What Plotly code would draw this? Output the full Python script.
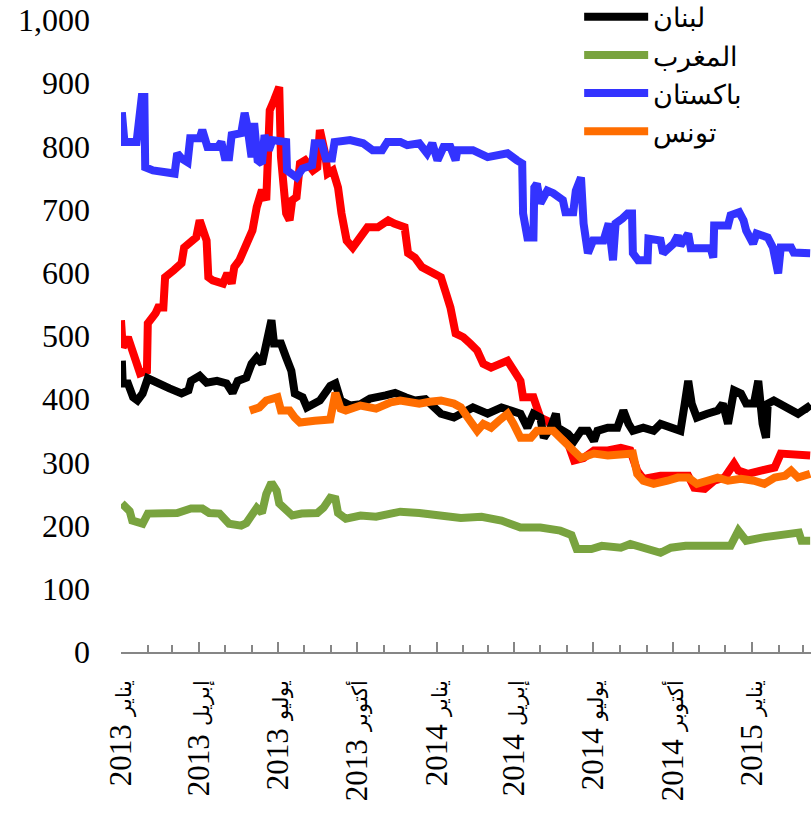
import plotly.graph_objects as go

# ---------------- data ----------------
red_dates = ["2013-01-01","2013-01-03","2013-01-09","2013-01-15","2013-01-23","2013-01-31","2013-02-01","2013-02-10","2013-02-13","2013-02-19","2013-02-21","2013-03-03","2013-03-12","2013-03-15","2013-03-23","2013-03-29","2013-04-02","2013-04-08","2013-04-10","2013-04-12","2013-04-17","2013-04-29","2013-05-04","2013-05-09","2013-05-12","2013-05-18","2013-05-26","2013-06-02","2013-06-07","2013-06-13","2013-06-18","2013-06-22","2013-06-27","2013-07-03","2013-07-05","2013-07-11","2013-07-15","2013-07-18","2013-07-23","2013-07-27","2013-08-02","2013-08-11","2013-08-16","2013-08-19","2013-08-25","2013-08-28","2013-09-03","2013-09-09","2013-09-13","2013-09-19","2013-09-26","2013-10-05","2013-10-13","2013-10-25","2013-11-06","2013-11-13","2013-11-25","2013-11-29","2013-12-07","2013-12-15","2013-12-30","2014-01-06","2014-01-12","2014-01-17","2014-01-23","2014-02-01","2014-02-09","2014-02-17","2014-02-24","2014-03-05","2014-03-24","2014-03-31","2014-04-08","2014-04-11","2014-04-23","2014-04-27","2014-05-01","2014-05-09","2014-05-16","2014-06-02","2014-06-09","2014-06-20","2014-07-02","2014-07-18","2014-08-02","2014-08-13","2014-08-21","2014-08-28","2014-09-17","2014-10-19","2014-10-26","2014-11-07","2014-11-18","2014-11-30","2014-12-11","2014-12-16","2014-12-27","2015-01-23","2015-01-27","2015-02-03","2015-02-19","2015-03-09"]
red_values = [525,482,498,472,441,445,520,536,545,545,593,604,615,640,651,656,683,662,651,593,588,583,599,583,609,620,647,667,704,731,715,857,873,894,783,694,683,715,720,773,778,762,767,826,789,757,762,735,694,651,640,656,672,672,683,678,672,631,624,609,599,593,567,545,504,498,488,477,456,450,461,445,429,403,403,387,371,366,355,330,303,307,319,319,323,319,287,274,279,279,260,258,271,276,298,287,282,290,292,314,314,311]

lebanon_dates = ["2013-01-02","2013-01-03","2013-01-09","2013-01-15","2013-01-20","2013-01-26","2013-02-01","2013-02-12","2013-02-26","2013-03-12","2013-03-20","2013-03-23","2013-04-02","2013-04-10","2013-04-22","2013-05-03","2013-05-10","2013-05-16","2013-05-26","2013-06-01","2013-06-07","2013-06-13","2013-06-18","2013-06-24","2013-06-27","2013-07-05","2013-07-11","2013-07-17","2013-07-21","2013-07-30","2013-08-04","2013-08-19","2013-08-31","2013-09-06","2013-09-12","2013-09-23","2013-10-05","2013-10-16","2013-11-03","2013-11-14","2013-11-26","2013-12-07","2013-12-19","2013-12-27","2014-01-06","2014-01-21","2014-01-29","2014-02-12","2014-03-01","2014-03-17","2014-03-28","2014-04-08","2014-04-16","2014-04-23","2014-05-01","2014-05-05","2014-05-13","2014-05-19","2014-05-21","2014-06-02","2014-06-09","2014-06-17","2014-06-25","2014-07-02","2014-07-06","2014-07-18","2014-07-29","2014-08-05","2014-08-11","2014-08-16","2014-08-28","2014-09-09","2014-09-17","2014-09-28","2014-10-10","2014-10-15","2014-10-19","2014-10-23","2014-10-29","2014-11-10","2014-11-22","2014-11-28","2014-12-04","2014-12-11","2014-12-19","2014-12-25","2015-01-03","2015-01-08","2015-01-13","2015-01-17","2015-01-19","2015-01-26","2015-02-12","2015-02-23","2015-03-06","2015-03-09"]
lebanon_values = [461,425,425,403,398,409,433,425,417,409,414,429,437,426,429,425,410,429,434,456,466,456,493,525,488,488,466,445,409,403,387,398,421,425,398,390,392,401,406,410,403,398,400,390,377,371,377,387,377,387,382,377,355,377,371,339,355,377,355,345,334,350,350,334,350,355,355,382,361,350,355,350,361,355,350,393,429,393,371,377,382,393,361,414,409,393,393,429,361,339,393,398,387,377,387,382]

morocco_dates = ["2013-01-02","2013-01-11","2013-01-14","2013-01-26","2013-02-01","2013-02-15","2013-03-07","2013-03-23","2013-04-05","2013-04-13","2013-04-25","2013-05-06","2013-05-20","2013-05-26","2013-06-02","2013-06-07","2013-06-13","2013-06-18","2013-06-24","2013-06-30","2013-07-03","2013-07-11","2013-07-18","2013-07-29","2013-08-16","2013-08-23","2013-08-31","2013-09-06","2013-09-09","2013-09-18","2013-10-05","2013-10-23","2013-11-09","2013-11-20","2013-12-12","2014-01-06","2014-01-29","2014-02-22","2014-03-17","2014-04-08","2014-05-01","2014-05-24","2014-06-06","2014-06-12","2014-06-29","2014-07-11","2014-08-02","2014-08-13","2014-09-06","2014-09-17","2014-09-29","2014-10-16","2014-11-14","2014-12-07","2014-12-16","2014-12-25","2015-01-12","2015-02-03","2015-02-24","2015-02-27","2015-03-09"]
morocco_values = [235,223,208,203,219,219,220,227,227,220,219,203,200,204,219,228,220,250,268,255,235,223,216,219,220,228,244,242,220,211,216,214,219,222,220,217,212,214,208,197,197,192,185,163,163,168,165,171,160,157,165,168,168,168,192,176,181,184,189,176,176]

pakistan_dates = ["2013-01-02","2013-01-03","2013-01-05","2013-01-19","2013-01-25","2013-01-28","2013-01-29","2013-02-07","2013-02-18","2013-03-04","2013-03-07","2013-03-12","2013-03-19","2013-03-22","2013-04-02","2013-04-05","2013-04-11","2013-04-23","2013-04-27","2013-05-01","2013-05-06","2013-05-09","2013-05-20","2013-05-24","2013-05-27","2013-06-01","2013-06-04","2013-06-08","2013-06-13","2013-06-16","2013-06-21","2013-06-25","2013-07-11","2013-07-12","2013-07-23","2013-07-30","2013-08-10","2013-08-13","2013-08-21","2013-08-26","2013-09-02","2013-09-05","2013-09-23","2013-10-08","2013-10-19","2013-10-30","2013-11-05","2013-11-20","2013-11-28","2013-12-12","2013-12-21","2013-12-27","2014-01-02","2014-01-09","2014-01-17","2014-01-23","2014-01-25","2014-02-12","2014-03-01","2014-03-24","2014-04-04","2014-04-10","2014-04-11","2014-04-16","2014-04-23","2014-04-24","2014-04-27","2014-05-01","2014-05-09","2014-05-16","2014-05-27","2014-05-30","2014-06-08","2014-06-11","2014-06-17","2014-06-20","2014-06-25","2014-07-01","2014-07-13","2014-07-19","2014-07-24","2014-07-27","2014-08-04","2014-08-10","2014-08-15","2014-08-16","2014-08-22","2014-09-02","2014-09-03","2014-09-17","2014-09-20","2014-09-25","2014-10-02","2014-10-07","2014-10-10","2014-10-19","2014-10-22","2014-11-14","2014-11-17","2014-11-18","2014-12-04","2014-12-07","2014-12-17","2014-12-22","2014-12-25","2015-01-02","2015-01-06","2015-01-19","2015-01-25","2015-01-31","2015-02-03","2015-02-15","2015-02-18","2015-03-09"]
pakistan_values = [854,826,807,807,878,878,767,762,759,757,789,781,775,813,813,826,799,799,807,783,783,818,821,853,833,783,837,778,773,818,794,810,807,762,751,765,770,805,805,781,781,807,810,805,794,794,807,807,802,805,789,805,778,799,799,778,794,794,783,789,778,773,694,656,656,735,741,710,730,726,715,696,696,730,751,678,631,651,651,678,620,678,686,694,694,631,620,620,654,651,631,636,646,659,643,662,639,639,624,675,675,691,696,683,667,646,662,656,640,599,640,640,632,631]

tunisia_dates = ["2013-05-30","2013-06-10","2013-06-18","2013-06-24","2013-07-01","2013-07-05","2013-07-15","2013-07-21","2013-07-27","2013-08-13","2013-08-31","2013-09-06","2013-09-12","2013-09-18","2013-10-05","2013-10-23","2013-11-09","2013-11-20","2013-12-12","2013-12-24","2014-01-06","2014-01-21","2014-01-29","2014-02-06","2014-02-17","2014-02-24","2014-03-05","2014-03-14","2014-03-24","2014-03-31","2014-04-08","2014-04-20","2014-04-27","2014-05-16","2014-05-24","2014-06-02","2014-06-09","2014-06-17","2014-07-02","2014-07-18","2014-08-16","2014-08-21","2014-08-28","2014-09-09","2014-09-25","2014-10-07","2014-10-19","2014-10-29","2014-11-10","2014-11-22","2014-12-04","2014-12-19","2015-01-03","2015-01-15","2015-01-27","2015-02-08","2015-02-15","2015-02-23","2015-03-09"]
tunisia_values = [382,387,398,401,403,382,382,371,363,366,368,410,385,382,390,385,395,398,393,396,398,393,387,371,350,361,355,366,377,361,339,339,350,350,339,330,319,307,314,311,314,282,271,266,271,276,276,266,271,276,271,274,271,266,276,279,287,276,282]

tick_dates = ["2013-01-01","2013-04-01","2013-07-01","2013-10-01","2014-01-01","2014-04-01","2014-07-01","2014-10-01","2015-01-01"]
tick_years = ["2013","2013","2013","2013","2014","2014","2014","2014","2015"]
tick_months = ["يناير","إبريل","يوليو","أكتوبر","يناير","إبريل","يوليو","أكتوبر","يناير"]
tick_labels = [f"{y} <span style='font-size:21px'>{m}</span>" for y, m in zip(tick_years, tick_months)]

x_range = ["2013-01-01", "2015-03-10"]

# ---------------- figure ----------------
fig = go.Figure()
fig.add_trace(go.Scatter(x=red_dates, y=red_values, mode="lines", name="مصر",
                         line=dict(color="#ff0000", width=8), showlegend=False))
fig.add_trace(go.Scatter(x=lebanon_dates, y=lebanon_values, mode="lines", name="لبنان",
                         line=dict(color="#000000", width=8)))
fig.add_trace(go.Scatter(x=morocco_dates, y=morocco_values, mode="lines", name="المغرب",
                         line=dict(color="#79a33f", width=8)))
fig.add_trace(go.Scatter(x=pakistan_dates, y=pakistan_values, mode="lines", name="باكستان",
                         line=dict(color="#3333ff", width=8)))
fig.add_trace(go.Scatter(x=tunisia_dates, y=tunisia_values, mode="lines", name="تونس",
                         line=dict(color="#ff6d00", width=8)))

fig.update_layout(
    width=811, height=822,
    margin=dict(l=121, r=0, t=20, b=170, autoexpand=False),
    paper_bgcolor="white", plot_bgcolor="white",
    font=dict(family="Liberation Serif, Times New Roman, serif", color="black"),
    legend=dict(
        x=0.664, xanchor="left", y=1.043, yanchor="top",
        font=dict(family="Liberation Sans, Arial, sans-serif", size=27, color="black"),
        itemwidth=64, bgcolor="rgba(0,0,0,0)", tracegroupgap=0,
    ),
    xaxis=dict(
        type="date", range=x_range, automargin=False,
        showgrid=False, zeroline=False,
        showline=True, linecolor="#868686", linewidth=2,
        ticks="inside", ticklen=10, tickwidth=2, tickcolor="#868686",
        tickmode="array", tickvals=tick_dates, ticktext=tick_labels,
        tickangle=-90, ticklabelstandoff=14,
        tickfont=dict(family="Liberation Serif, Times New Roman, serif", size=31, color="black"),
        minor=dict(ticks="inside", ticklen=7, tickwidth=2, tickcolor="#868686",
                   dtick="M1", tick0="2013-01-01", showgrid=False),
    ),
    yaxis=dict(
        range=[0, 1000], dtick=100, tickformat=",", automargin=False,
        showgrid=False, zeroline=False, showline=False, ticks="",
        ticklabelstandoff=30,
        tickfont=dict(family="Liberation Serif, Times New Roman, serif", size=32, color="black"),
    ),
)

fig.write_html("out.html", config={"displayModeBar": False},
               post_script="document.body.style.margin='0px';document.body.style.overflow='hidden';")
